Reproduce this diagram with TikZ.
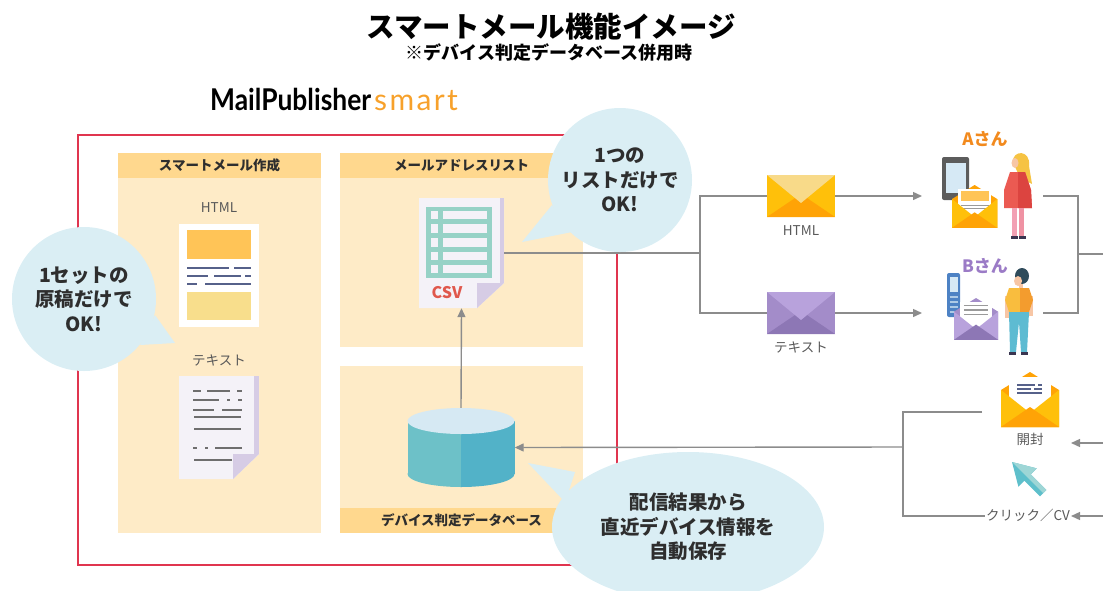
\documentclass[tikz,border=0pt]{standalone}
\usepackage{fontspec}
\setmainfont{Noto Sans CJK JP}
\newfontfamily\logofont[FakeStretch=0.88]{Lato}
\newfontfamily\smartfont[LetterSpace=8]{Lato}
\usetikzlibrary{arrows.meta,positioning,shapes.geometric}
\definecolor{framered}{HTML}{E0354F}
\definecolor{cream}{HTML}{FEEBC7}
\definecolor{headorange}{HTML}{FFD88E}
\definecolor{bubbleblue}{HTML}{DAEEF4}
\definecolor{linegray}{HTML}{8C8C8C}
\definecolor{labelgray}{HTML}{595959}
\definecolor{darktext}{HTML}{2E2E2E}
\definecolor{paper}{HTML}{F4F2F8}
\definecolor{foldlav}{HTML}{D6CCE5}
\definecolor{tableteal}{HTML}{96D2C6}
\definecolor{csvred}{HTML}{E0584C}
\definecolor{htmlorange}{HTML}{FFC457}
\definecolor{htmlyellow}{HTML}{F8DE8C}
\definecolor{slate}{HTML}{56618A}
\definecolor{textgray}{HTML}{6E6E6E}
\definecolor{dbtop}{HTML}{D6E9F3}
\definecolor{dbleft}{HTML}{6DC1C8}
\definecolor{dbright}{HTML}{52B2C8}
\definecolor{amber}{HTML}{FFC00A}
\definecolor{deeporange}{HTML}{FFA306}
\definecolor{paleyellow}{HTML}{F8DA89}
\definecolor{purpleside}{HTML}{A38CC9}
\definecolor{purplebottom}{HTML}{8D77B5}
\definecolor{purpleflap}{HTML}{B8A2DC}
\definecolor{smartorange}{HTML}{F7A12B}
\definecolor{aorange}{HTML}{F28A1E}
\definecolor{bpurple}{HTML}{9B7BC6}
\definecolor{phonegray}{HTML}{5C5C5C}
\definecolor{screenblue}{HTML}{D6E9F5}
\definecolor{flipblue}{HTML}{4D82C4}
\definecolor{hairyellow}{HTML}{F6C343}
\definecolor{coatred}{HTML}{EB5A52}
\definecolor{coatdark}{HTML}{DC4440}
\definecolor{legpink}{HTML}{F2A0B4}
\definecolor{shoedark}{HTML}{3A3550}
\definecolor{skin}{HTML}{F7C6A5}
\definecolor{hairdark}{HTML}{2F4B5B}
\definecolor{shirtyellow}{HTML}{F9BD3E}
\definecolor{shirtorange}{HTML}{F39C2E}
\definecolor{pantsteal}{HTML}{5DBBD2}
\definecolor{cursorteal}{HTML}{5EBFCB}
\definecolor{cursorlight}{HTML}{9ED6D6}
% closed envelope, 68 x 42: body, bottom, flap
\newcommand{\closedmail}[3]{%
  \fill[#1] (0,0) rectangle (68,42);
  \fill[#2] (0,42) -- (34,19) -- (68,42) -- cycle;
  \fill[#3] (0,0) -- (34,28) -- (68,0) -- cycle;
}
% open envelope, 58 x 55: back, front, bottom, letter contents
\newcommand{\openmail}[4]{%
  \fill[#1] (0,18) -- (29,0) -- (58,18) -- (58,55) -- (0,55) -- cycle;
  \fill[white] (8,5) rectangle (50,40);
  #4
  \fill[#2] (0,18) -- (29,41) -- (58,18) -- (58,55) -- (0,55) -- cycle;
  \fill[#3] (0,55) -- (29,35) -- (58,55) -- cycle;
}

\begin{document}
\begin{tikzpicture}[x=1pt,y=-1pt,
  panel/.style={fill=cream,inner sep=0pt},
  header/.style={fill=headorange,inner sep=0pt,minimum height=25pt,text=darktext,font=\fontsize{13.5}{15}\selectfont\bfseries},
  caption/.style={inner sep=0pt,text=labelgray,font=\fontsize{13.5}{16}\selectfont},
  bubble/.style={fill=bubbleblue,inner sep=0pt,align=center,text=darktext,font=\fontsize{19.5}{24.5}\selectfont\bfseries},
  link/.style={draw=linegray,line width=1.4pt},
  arrow/.style={link,-{Triangle[length=9pt,width=8pt]}},
  dashline/.style={line width=2pt}
]
\useasboundingbox (0,0) rectangle (1103,590);

% title
\node[font=\fontsize{28.5}{31}\selectfont\bfseries] (title) at (551,27) {スマートメール機能イメージ};
\node[font=\fontsize{18}{21}\selectfont\bfseries] (subtitle) at (549,53) {※デバイス判定データベース併用時};
\node[anchor=base west,inner sep=0pt,font=\fontsize{30}{32}\selectfont] (logo) at (210,110)
  {\logofont\bfseries MailPublisher\hspace{3pt}\smartfont\mdseries\textcolor{smartorange}{smart}};

% system frame
\draw[framered,line width=1.8pt] (78,135) rectangle (617,565);

% panels
\node[panel,minimum width=203pt,minimum height=380pt] (compose) at (219.5,343) {};
\node[header,minimum width=203pt,anchor=north] (hcompose) at (compose.north) {スマートメール作成};
\node[panel,minimum width=243pt,minimum height=194pt] (list) at (461.5,250) {};
\node[header,minimum width=243pt,anchor=north] (hlist) at (list.north) {メールアドレスリスト};
\node[panel,minimum width=243pt,minimum height=167pt] (devdb) at (461.5,449.5) {};
\node[header,minimum width=243pt,anchor=south] (hdevdb) at (devdb.south) {デバイス判定データベース};

% html original
\node[caption] (lhtml) at (219,208) {HTML};
\node[fill=white,inner sep=0pt,minimum width=80pt,minimum height=103pt] (htmldoc) at (219,275.5) {};
\fill[htmlorange] (187,230) rectangle (251,259);
\fill[htmlyellow] (187,292) rectangle (251,320);
\foreach \xa/\xb/\yy in {187/229/268, 234/251/268, 187/208/276, 214/241/276, 245/251/276, 187/197/284, 205/251/284}
  \draw[slate,dashline] (\xa,\yy) -- (\xb,\yy);

% text original
\node[caption] (ltext) at (219,360) {テキスト};
\fill[paper] (179,376) -- (259,376) -- (259,454) -- (233,479) -- (179,479) -- cycle;
\fill[foldlav] (254,376) rectangle (259,454);
\fill[foldlav] (233,454) -- (259,454) -- (233,479) -- cycle;
\foreach \xa/\xb/\yy in {193/201/391, 207/230/391, 237/242/391, 193/219/400, 227/230/400, 238/242/400,
    193/214/410, 222/242/410, 194/241/417, 194/241/429, 193/197/448, 205/208/448, 215/242/448, 194/232/460}
  \draw[textgray,line width=2.4pt] (\xa,\yy) -- (\xb,\yy);
\node[inner sep=0pt,minimum width=80pt,minimum height=103pt] (textdoc) at (219,427.5) {};

% address list
\fill[paper] (419,198) -- (504,198) -- (504,283) -- (477,308) -- (419,308) -- cycle;
\fill[foldlav] (500,198) rectangle (504,283);
\fill[foldlav] (477,283) -- (504,283) -- (477,308) -- cycle;
\fill[tableteal] (426,207) rectangle (492,278);
\foreach \ya/\yb in {211/219, 224/233, 238/247, 252/260, 265/273} {
  \fill[paper] (431,\ya) rectangle (438,\yb);
  \fill[paper] (443,\ya) rectangle (487,\yb);
}
\node[text=csvred,inner sep=0pt,font=\fontsize{16}{18}\selectfont\bfseries] (csvlabel) at (447,293) {CSV};
\node[inner sep=0pt,minimum width=85pt,minimum height=110pt] (csv) at (461.5,253) {};

% device database
\begin{scope}
  \clip (400,400) rectangle (461,500);
  \fill[dbleft] (407.5,421) rectangle (514.5,474);
  \fill[dbleft] (461,474) ellipse[x radius=53.5,y radius=13];
\end{scope}
\begin{scope}
  \clip (461,400) rectangle (520,500);
  \fill[dbright] (407.5,421) rectangle (514.5,474);
  \fill[dbright] (461,474) ellipse[x radius=53.5,y radius=13];
\end{scope}
\fill[dbtop] (461,421) ellipse[x radius=53.5,y radius=13];
\node[inner sep=0pt,minimum width=107pt,minimum height=79pt] (db) at (461,447.5) {};

% delivery envelopes
\begin{scope}[shift={(767,175)}]
  \closedmail{amber}{deeporange}{paleyellow}
\end{scope}
\begin{scope}[shift={(767,292)}]
  \closedmail{purpleside}{purplebottom}{purpleflap}
\end{scope}
\node[inner sep=0pt,minimum width=68pt,minimum height=42pt] (mailh) at (801,196) {};
\node[inner sep=0pt,minimum width=68pt,minimum height=42pt] (mailt) at (801,313) {};
\node[caption,below=8pt of mailh] (lmailh) {HTML};
\node[caption,below=7pt of mailt] (lmailt) {テキスト};

% A-san
\node[text=aorange,inner sep=0pt,font=\fontsize{17}{20}\selectfont\bfseries] (alabel) at (985,139) {Aさん};
\fill[phonegray,rounded corners=2pt] (942,157) rectangle (969,200);
\fill[screenblue] (945.5,163) rectangle (965.5,193);
\begin{scope}[shift={(952,185)},scale=0.78]
  \openmail{deeporange}{amber}{deeporange}{%
    \fill[htmlorange] (11,8) rectangle (47,21);
    \draw[textgray!70,line width=1.5pt] (11,26) -- (47,26) (11,30) -- (47,30);}
\end{scope}
\fill[hairyellow] (1013,162) .. controls (1012,150) and (1031,149) .. (1029,166) -- (1032,184) -- (1020,178) -- cycle;
\fill[skin] (1015,163) ellipse[x radius=3.5,y radius=5];
\fill[coatred] (1010,172) -- (1025,172) -- (1031,190) -- (1032,208) -- (1004,208) -- (1004,190) -- cycle;
\fill[coatdark] (1018,172) -- (1025,172) -- (1031,190) -- (1032,208) -- (1018,208) -- cycle;
\fill[legpink] (1012,208) rectangle (1017,236);
\fill[legpink!85!coatdark] (1019,208) rectangle (1024,236);
\fill[shoedark] (1011,236) rectangle (1018,239);
\fill[shoedark] (1019,236) rectangle (1026,239);

% B-san
\node[text=bpurple,inner sep=0pt,font=\fontsize{17}{20}\selectfont\bfseries] (blabel) at (985,266) {Bさん};
\fill[flipblue,rounded corners=2pt] (947,273) rectangle (960,317);
\fill[screenblue] (949.5,277) rectangle (957.5,292);
\foreach \yy in {297,302,307,312}
  \draw[screenblue!70!flipblue,line width=1.5pt] (949.5,\yy) -- (957.5,\yy);
\begin{scope}[shift={(954,298)},scale=0.76]
  \openmail{purpleside}{purpleflap}{purplebottom}{%
    \draw[textgray!70,line width=1.5pt] (13,10) -- (45,10) (13,16) -- (45,16) (13,22) -- (45,22);}
\end{scope}
\fill[hairdark] (1022,276) ellipse[x radius=7,y radius=8];
\fill[skin] (1018,281) ellipse[x radius=4,y radius=5];
\fill[skin] (1019,284) rectangle (1023,290);
\fill[skin] (1005,296) rectangle (1009,318);
\fill[skin] (1029,296) rectangle (1033,316);
\fill[shirtyellow] (1009,288) -- (1020,288) -- (1020,312) -- (1009,312) -- (1005,300) -- cycle;
\fill[shirtorange] (1020,288) -- (1029,288) -- (1033,300) -- (1029,312) -- (1020,312) -- cycle;
\fill[pantsteal] (1009,312) -- (1029,312) -- (1027,352) -- (1021,352) -- (1019,322) -- (1016,352) -- (1010,352) -- cycle;
\fill[shoedark] (1009,352) rectangle (1016,355);
\fill[shoedark] (1021,352) rectangle (1028,355);

% responses: opened mail and click
\begin{scope}[shift={(1001,372)}]
  \openmail{deeporange}{amber}{deeporange}{%
    \draw[slate,line width=1.5pt] (16,13) -- (34,13) (37,13) -- (41,13) (16,17) -- (30,17) (33,17) -- (41,17) (16,21) -- (41,21);}
\end{scope}
\node[inner sep=0pt,minimum width=58pt,minimum height=55pt] (openmail) at (1030,399.5) {};
\node[caption,below=6pt of openmail] (lopen) {開封};
\fill[cursorteal] (1012,462) -- (1036.8,468.4) -- (1030.8,474.4) -- (1046.4,490) -- (1040,496.4)
  -- (1024.4,480.8) -- (1018.4,486.8) -- cycle;
\fill[cursorlight] (1012,462) -- (1036.8,468.4) -- (1030.8,474.4) -- (1046.4,490) -- (1043.2,493.2) -- (1027.6,477.6) -- cycle;
\node[caption] (lclick) at (1028,515) {クリック／CV};

% connectors
\coordinate (split) at (700,253);
\coordinate (ain) at (922,196);
\coordinate (bin) at (922,313);
\coordinate (aout) at (1043,196);
\coordinate (bout) at (1043,313);
\coordinate (rjoin) at (1078,254);
\coordinate (redge) at (1103,254);
\coordinate (openedge) at (1103,443);
\coordinate (openin) at (1071,443);
\coordinate (cvedge) at (1103,516);
\coordinate (cvin) at (1071,516);
\coordinate (openout) at (982,412);
\coordinate (cvout) at (985,516);
\coordinate (ljoin) at (903,447);
\draw[link] (csv.east) -- (split);
\draw[link] (mailh.west) -| (split) |- (mailt.west);
\draw[arrow] (mailh.east) -- (ain);
\draw[arrow] (mailt.east) -- (bin);
\draw[link] (aout) -| (rjoin) |- (bout);
\draw[link] (rjoin) -- (redge);
\draw[arrow] (openedge) -- (openin);
\draw[arrow] (cvedge) -- (cvin);
\draw[link] (openout) -| (ljoin) |- (cvout);
\draw[arrow] (ljoin) -- (db.east);
\draw[arrow] (db.north) -- (csv.south);

% callouts
\fill[bubbleblue] (140,345) -- (155,315) -- (175,343) -- cycle;
\node[bubble,circle,minimum size=144pt] (oneset) at (84,299) {1セットの\\原稿だけで\\OK!};
\fill[bubbleblue] (552,205) -- (572,232) -- (522,242) -- cycle;
\node[bubble,circle,minimum size=144pt] (onelist) at (620,180) {1つの\\リストだけで\\OK!};
\fill[bubbleblue] (528,463) -- (575,472) -- (565,502) -- cycle;
\node[bubble,ellipse,minimum width=272pt,minimum height=150pt] (autosave) at (688,527) {配信結果から\\直近デバイス情報を\\自動保存};
\end{tikzpicture}
\end{document}
